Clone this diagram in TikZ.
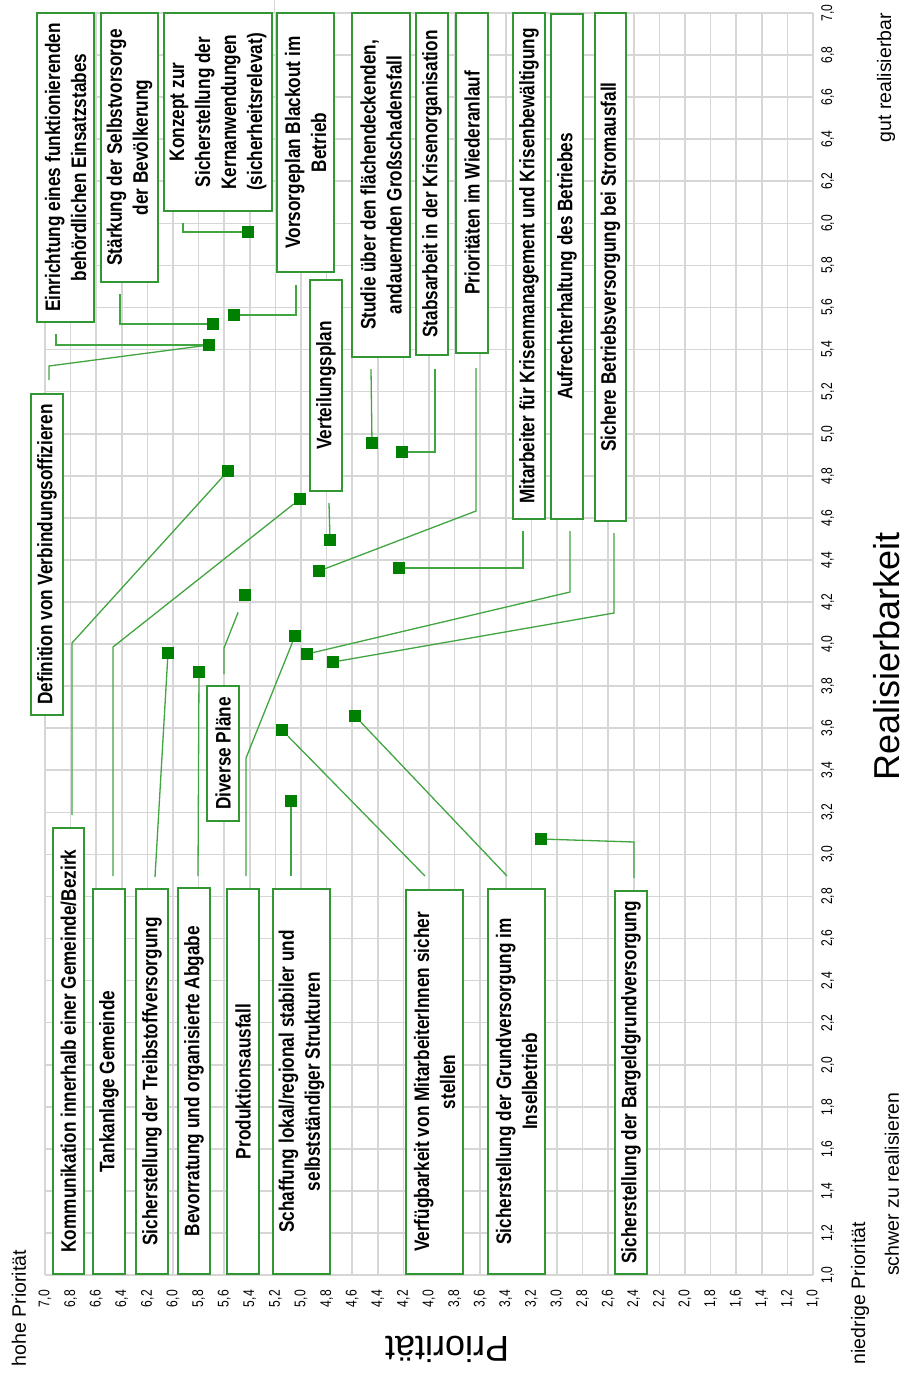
\documentclass[tikz,border=0pt]{standalone}
\usepackage{fontspec}
\setmainfont{Liberation Sans}
\newfontfamily\narrowfont{Liberation Sans}[FakeStretch=0.82]
\newfontfamily\tickfont{Liberation Sans}[FakeStretch=0.78]
\definecolor{boxgreen}{RGB}{50,150,50}
\definecolor{leadgreen}{RGB}{65,165,65}
\definecolor{markgreen}{RGB}{0,128,0}
\definecolor{gridgray}{RGB}{214,214,214}
\begin{document}
\begin{tikzpicture}[x=1pt,y=-1pt,
  gridl/.style={draw=gridgray,line width=1.6pt},
  lbox/.style={draw=boxgreen,line width=1.5pt,fill=white,rotate=90,inner sep=0pt,align=center,
    font=\narrowfont\bfseries\fontsize{21}{26}\selectfont},
  ldr/.style={draw=leadgreen,line width=1.3pt},
  mk/.style={rectangle,fill=markgreen,draw=none,minimum size=12pt,inner sep=0pt},
  tick/.style={rotate=90,inner sep=0pt,font=\tickfont\fontsize{15.5}{18}\selectfont},
  axt/.style={inner sep=0pt,font=\fontsize{36}{40}\selectfont},
  note/.style={rotate=90,inner sep=0pt,font=\fontsize{19.5}{22}\selectfont}]
\fill[white] (0,0) rectangle (907,1374);
\useasboundingbox (0,0) rectangle (907,1374);
% grid
\foreach \i in {0,...,30} {
  \draw[gridl] ({45+\i*25.6},13) -- ({45+\i*25.6},1275);
  \draw[gridl] (45,{13+\i*42.07}) -- (813,{13+\i*42.07});
}
\draw[gridl] (274.5,0) -- (274.5,13);
% tick labels
\foreach \i in {0,...,30} {
  \pgfmathtruncatemacro\ta{(70-2*\i)/10}
  \pgfmathtruncatemacro\tb{70-2*\i-10*\ta}
  \node[tick,anchor=east] (p\i) at ({45+\i*25.6},1290) {\ta,\tb};
  \node[tick,anchor=north] (r\i) at (821,{13+\i*42.07}) {\ta,\tb};
}
% axis titles
\node[axt,rotate=90] (realt) at (887,656) {Realisierbarkeit};
\node[axt,rotate=180] (priot) at (447,1349) {Priorität};
\node[note,anchor=east] (hohe) at (19,1250) {hohe Priorität};
\node[note,anchor=east] (niedr) at (860,1222) {niedrige Priorität};
\node[note,anchor=west] (schwer) at (892,1276) {schwer zu realisieren};
\node[note,anchor=east] (gut) at (886,13) {gut realisierbar};
% boxes
\node[lbox,minimum width=309,minimum height=57] (A) at (65.5,167.5) {Einrichtung eines funktionierenden\\behördlichen Einsatzstabes};
\node[lbox,minimum width=269,minimum height=57] (B) at (129.5,147.5) {Stärkung der Selbstvorsorge\\der Bevölkerung};
\node[lbox,minimum width=198,minimum height=108] (C) at (218,112) {Konzept zur\\Sicherstellung der\\Kernanwendungen\\(sicherheitsrelevat)};
\node[lbox,minimum width=259,minimum height=57] (D) at (305.5,142.5) {Vorsorgeplan Blackout im\\Betrieb};
\node[lbox,minimum width=211,minimum height=32] (E) at (326,385.5) {Verteilungsplan};
\node[lbox,minimum width=344,minimum height=58] (F) at (381,185) {Studie über den flächendeckenden,\\andauernden Großschadensfall};
\node[lbox,minimum width=342,minimum height=32] (G) at (432,184) {Stabsarbeit in der Krisenorganisation};
\node[lbox,minimum width=340,minimum height=32] (H) at (472,183) {Prioritäten im Wiederanlauf};
\node[lbox,minimum width=506,minimum height=32] (I) at (529,266) {Mitarbeiter für Krisenmanagement und Krisenbewältigung};
\node[lbox,minimum width=505,minimum height=32] (J) at (567,266.5) {Aufrechterhaltung des Betriebes};
\node[lbox,minimum width=508,minimum height=31] (K) at (610.5,267) {Sichere Betriebsversorgung bei Stromausfall};
\node[lbox,minimum width=321,minimum height=32] (L) at (47,554.5) {Definition von Verbindungsoffizieren};
\node[lbox,minimum width=135,minimum height=32] (M) at (223,753.5) {Diverse Pläne};
\node[lbox,minimum width=446,minimum height=31] (N) at (68.5,1051) {Kommunikation innerhalb einer Gemeinde/Bezirk};
\node[lbox,minimum width=385,minimum height=32] (O) at (109,1081.5) {Tankanlage Gemeinde};
\node[lbox,minimum width=385,minimum height=32] (P) at (152,1081.5) {Sicherstellung der Treibstoffversorgung};
\node[lbox,minimum width=386,minimum height=32] (Q) at (194,1081) {Bevorratung und organisierte Abgabe};
\node[lbox,minimum width=385,minimum height=32] (R) at (243,1081.5) {Produktionsausfall};
\node[lbox,minimum width=385,minimum height=57] (S) at (301.5,1081.5) {Schaffung lokal/regional stabiler und\\selbstständiger Strukturen};
\node[lbox,minimum width=384,minimum height=57] (T) at (434.5,1082) {Verfügbarkeit von MitarbeiterInnen sicher\\stellen};
\node[lbox,minimum width=385,minimum height=57] (U) at (516.5,1081.5) {Sicherstellung der Grundversorgung im\\Inselbetrieb};
\node[lbox,minimum width=383,minimum height=32] (V) at (631,1082.5) {Sicherstellung der Bargeldgrundversorgung};
% markers
\node[mk] (m1) at (248,232) {};
\node[mk] (m2) at (213,324) {};
\node[mk] (m3) at (209,345) {};
\node[mk] (m4) at (234,315) {};
\node[mk] (m5) at (228,471) {};
\node[mk] (m6) at (300,499) {};
\node[mk] (m7) at (245,595) {};
\node[mk] (m8) at (168,653) {};
\node[mk] (m9) at (199,672) {};
\node[mk] (m10) at (295,636) {};
\node[mk] (m11) at (307,654) {};
\node[mk] (m12) at (333,662) {};
\node[mk] (m13) at (355,716) {};
\node[mk] (m14) at (282,730) {};
\node[mk] (m15) at (291,801) {};
\node[mk] (m16) at (372,443) {};
\node[mk] (m17) at (402,452) {};
\node[mk] (m18) at (330,540) {};
\node[mk] (m19) at (319,571) {};
\node[mk] (m20) at (399,568) {};
\node[mk] (m21) at (541,839) {};
% leaders
\coordinate (As) at (56,334);  \draw[ldr] (As) |- (m3);
\coordinate (Bs) at (120,294); \draw[ldr] (Bs) |- (m2);
\coordinate (Cs) at (183,223); \draw[ldr] (Cs) |- (m1);
\coordinate (Ds) at (296,285); \draw[ldr] (Ds) |- (m4);
\coordinate (Ls) at (49,380);  \draw[ldr] (Ls) -- ++(0,-14) -- (m3);
\coordinate (Ns) at (72,815);  \draw[ldr] (Ns) -- ++(0,-172) -- (m5);
\coordinate (Os) at (113,876); \draw[ldr] (Os) -- ++(0,-229) -- (m6);
\coordinate (Ms) at (224,674); \draw[ldr,shorten >=12pt] (Ms) -- ++(0,-26) -- (m7);
\coordinate (Ps) at (155,877); \draw[ldr] (Ps) -- (m8);
\coordinate (Qs) at (198,876); \draw[ldr] (Qs) -- (m9);
\coordinate (Rs) at (246,876); \draw[ldr] (Rs) -- ++(0,-118) -- (m10);
\coordinate (Ss) at (291,876); \draw[ldr] (Ss) -- (m15);
\coordinate (Ts) at (425,876); \draw[ldr] (Ts) -- (m14);
\coordinate (Us) at (507,876); \draw[ldr] (Us) -- (m13);
\coordinate (Vs) at (634,878); \draw[ldr] (Vs) -- ++(0,-36) -- (m21);
\coordinate (Es) at (329,503); \draw[ldr] (Es) -- (m18);
\coordinate (Fs) at (371,369); \draw[ldr] (Fs) -- (m16);
\coordinate (Gs) at (435,369); \draw[ldr] (Gs) |- (m17);
\coordinate (Hs) at (476,368); \draw[ldr] (Hs) -- ++(0,143) -- (m19);
\coordinate (Is) at (523,531); \draw[ldr] (Is) |- (m20);
\coordinate (Js) at (570,531); \draw[ldr] (Js) -- ++(0,61) -- (m11);
\coordinate (Ks) at (614,533); \draw[ldr] (Ks) -- ++(0,80) -- (m12);
\end{tikzpicture}
\end{document}
